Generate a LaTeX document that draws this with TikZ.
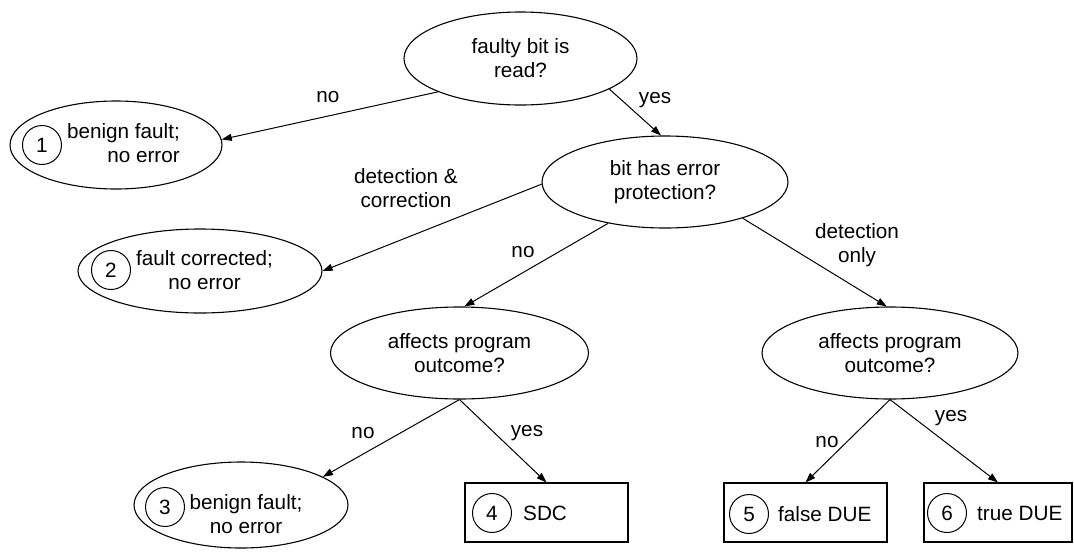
\documentclass[tikz,border=0pt]{standalone}
\usepackage{fontspec}
\setmainfont{Liberation Sans}
\usetikzlibrary{arrows.meta,shapes.geometric}
\begin{document}
\begin{tikzpicture}[x=1pt,y=-1pt,
  every node/.style={font=\fontsize{20.7}{24}\selectfont, inner sep=0pt},
  question/.style={draw, ellipse, line width=1.1pt, align=center},
  outcome/.style={draw, ellipse, line width=1.1pt},
  endbox/.style={draw, rectangle, line width=1.1pt, minimum width=163pt, minimum height=59pt},
  num/.style={draw, circle, line width=1pt, minimum size=39pt},
  lbl/.style={align=center},
  flow/.style={line width=1pt, -{Triangle[length=10pt,width=7pt]}}
]
\useasboundingbox (0,0) rectangle (1074,552);

% decision nodes
\node[question, minimum width=233pt, minimum height=93pt] (read) at (520.5,58.5) {faulty bit is\\read?};
\node[question, minimum width=246pt, minimum height=92pt] (prot) at (665,182) {bit has error\\protection?};
\node[question, minimum width=258pt, minimum height=92pt] (affL) at (459.5,353) {affects program\\outcome?};
\node[question, minimum width=256pt, minimum height=92pt] (affR) at (890,353) {affects program\\outcome?};

% outcome 1
\node[outcome, minimum width=212pt, minimum height=88pt] (benignA) at (116,145) {};
\node[num] (n1) at (42,145) {1};
\node[align=right, anchor=east] (t1) at (180,143.5) {benign fault;\\no error};

% outcome 2
\node[outcome, minimum width=244pt, minimum height=84pt] (corr) at (200,271) {};
\node[num] (n2) at (111,270) {2};
\node[align=center] (t2) at (204.5,270) {fault corrected;\\no error};

% outcome 3
\node[outcome, minimum width=214pt, minimum height=86pt] (benignB) at (241,505) {};
\node[num] (n3) at (165,507) {3};
\node[align=center] (t3) at (246,514) {benign fault;\\no error};

% outcomes 4-6
\node[endbox] (sdc) at (546.5,512.5) {};
\node[num] (n4) at (492,513) {4};
\node[anchor=west] (t4) at (523,513) {SDC};

\node[endbox] (fdue) at (805.5,512.5) {};
\node[num] (n5) at (749,514) {5};
\node[anchor=west] (t5) at (778,514) {false DUE};

\node[endbox, minimum width=148pt] (tdue) at (998,512.5) {};
\node[num] (n6) at (947,513) {6};
\node[anchor=west] (t6) at (977,513) {true DUE};

% connectors
\draw[flow] (read.202) -- (benignA.3);
\draw[flow] (read.341) -- (prot.95);
\draw[flow] (prot.181) -- (corr.east);
\draw[flow] (prot.216) -- (affL.84);
\draw[flow] (prot.335) -- (affR.94);
\draw[flow] (affL.south) -- (benignB.19);
\draw[flow] (affL.south) -- (sdc.north);
\draw[flow] (affR.south) -- (fdue.north);
\draw[flow] (affR.south) -- (tdue.north);

% connector labels
\node (l1) at (328,97) {no};
\node (l2) at (655,100) {yes};
\node[lbl] (l3) at (406,188) {detection \&\\correction};
\node (l4) at (523,252) {no};
\node[lbl] (l5) at (857,245) {detection\\only};
\node (l6) at (363,433) {no};
\node (l7) at (527,433) {yes};
\node (l8) at (827,442) {no};
\node (l9) at (951,418) {yes};
\end{tikzpicture}
\end{document}
